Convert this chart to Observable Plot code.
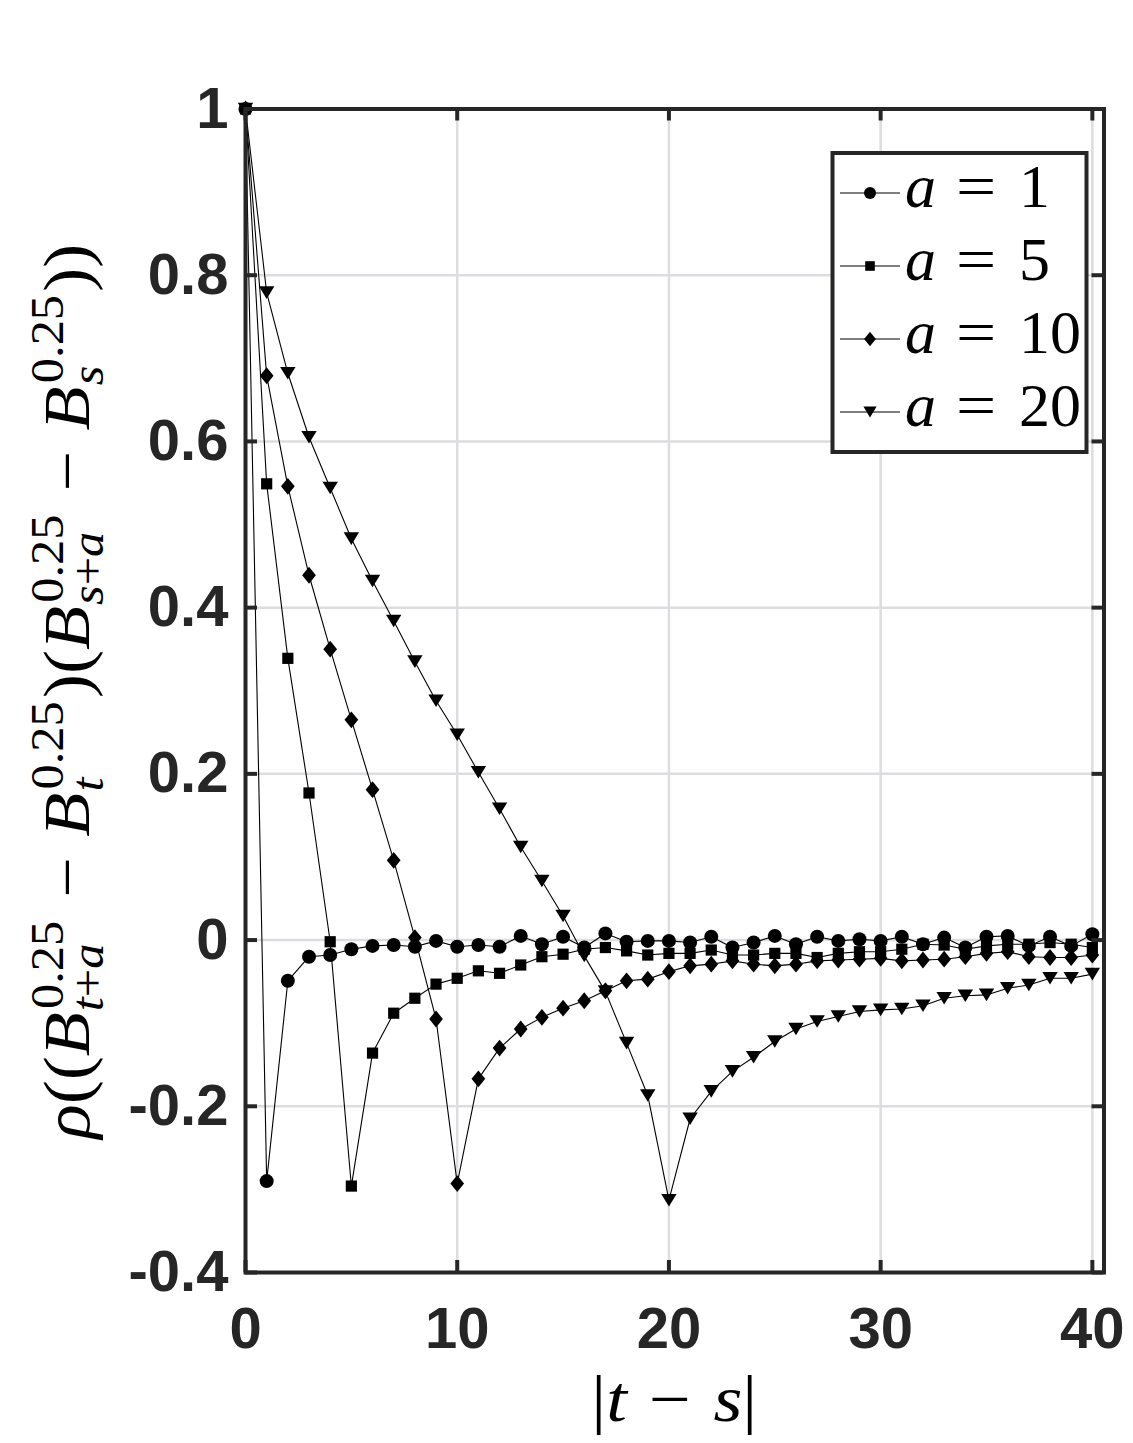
<!DOCTYPE html>
<html><head><meta charset="utf-8">
<script src="https://cdn.jsdelivr.net/npm/d3@7"></script>
<script src="https://cdn.jsdelivr.net/npm/@observablehq/plot@0.6"></script>
<style>body{margin:0;background:#fff;}</style>
</head><body><div id="chart"></div>
<script>
// ---- data ----
const lags = [0,1,2,3,4,5,6,7,8,9,10,11,12,13,14,15,16,17,18,19,20,21,22,23,24,25,26,27,28,29,30,31,32,33,34,35,36,37,38,39,40];
const xTicks = [0,10,20,30,40];
const yTicks = [-0.4,-0.2,0,0.2,0.4,0.6,0.8,1];
const aValues = [1,5,10,20];
const rho_a1 = [1,-0.290,-0.049,-0.020,-0.018,-0.011,-0.007,-0.006,-0.008,-0.001,-0.008,-0.006,-0.008,0.005,-0.005,0.004,-0.009,0.008,-0.002,-0.001,-0.001,-0.003,0.004,-0.009,-0.003,0.005,-0.005,0.004,-0.001,0.001,-0.001,0.004,-0.005,0.003,-0.009,0.004,0.005,-0.007,0.004,-0.007,0.007];
const rho_a5 = [1,0.549,0.339,0.177,-0.002,-0.296,-0.136,-0.088,-0.070,-0.053,-0.046,-0.037,-0.040,-0.030,-0.020,-0.017,-0.011,-0.009,-0.013,-0.018,-0.016,-0.016,-0.012,-0.018,-0.018,-0.016,-0.016,-0.021,-0.016,-0.014,-0.014,-0.011,-0.005,-0.006,-0.011,-0.007,-0.005,-0.005,-0.003,-0.005,-0.009];
const rho_a10 = [1,0.679,0.546,0.439,0.350,0.265,0.181,0.096,0.003,-0.095,-0.293,-0.167,-0.130,-0.107,-0.093,-0.082,-0.073,-0.061,-0.049,-0.047,-0.038,-0.031,-0.029,-0.025,-0.029,-0.031,-0.029,-0.025,-0.024,-0.023,-0.022,-0.025,-0.024,-0.023,-0.020,-0.016,-0.014,-0.020,-0.021,-0.021,-0.018];
const rho_a20 = [1,0.779,0.682,0.605,0.544,0.483,0.432,0.384,0.335,0.288,0.247,0.202,0.158,0.112,0.071,0.029,-0.019,-0.062,-0.124,-0.187,-0.313,-0.215,-0.182,-0.158,-0.141,-0.122,-0.107,-0.098,-0.092,-0.086,-0.084,-0.083,-0.079,-0.070,-0.067,-0.066,-0.058,-0.054,-0.046,-0.046,-0.041];
const seriesRho = [rho_a1, rho_a5, rho_a10, rho_a20];

const data = [];
seriesRho.forEach((arr, i) => arr.forEach((v, j) => data.push({lag: lags[j], rho: v, a: aValues[i]})));

// ---- symbols ----
const symbols = [
  {draw(ctx, size){ const r = Math.sqrt(size/Math.PI); ctx.moveTo(r,0); ctx.arc(0,0,r,0,2*Math.PI); ctx.closePath(); }},
  {draw(ctx, size){ const r = Math.sqrt(size/Math.PI)*0.8; ctx.rect(-r,-r,2*r,2*r); }},
  {draw(ctx, size){ const r = Math.sqrt(size/Math.PI); const h=r*1.2, w=r*0.98; ctx.moveTo(0,-h); ctx.lineTo(w,0); ctx.lineTo(0,h); ctx.lineTo(-w,0); ctx.closePath(); }},
  {draw(ctx, size){ const r = Math.sqrt(size/Math.PI); const w=r*1.1, h=r*1.8; ctx.moveTo(-w,-h/2); ctx.lineTo(w,-h/2); ctx.lineTo(0,h/2); ctx.closePath(); }}
];

// ---- layout ----
const W = 1133, H = 1443, mL = 245, mR = 29.5, mT = 108.5, mB = 171;
const innerW = W - mL - mR, innerH = H - mT - mB;
const tickLen = 12, ink = "#262626", gridColor = "#dddce1";

const plot = Plot.plot({
  width: W, height: H,
  marginLeft: mL, marginRight: mR, marginTop: mT, marginBottom: mB,
  x: {domain: [0, 40.55]},
  y: {domain: [-0.4, 1]},
  style: {fontFamily: "Liberation Sans", color: ink, background: "white", overflow: "visible"},
  marks: [
    Plot.ruleX(xTicks.filter(d => d > 0), {stroke: gridColor, strokeWidth: 2.5}),
    Plot.ruleY(yTicks.filter(d => d > -0.4 && d < 1), {stroke: gridColor, strokeWidth: 2.5}),
    Plot.line(data, {x: "lag", y: "rho", z: "a", stroke: "black", strokeWidth: 1.1}),
    ...aValues.map((a, i) => Plot.dot(data.filter(d => d.a === a), {x: "lag", y: "rho", r: 7, fill: "black", stroke: "none", symbol: symbols[i]})),
    Plot.frame({stroke: ink, strokeWidth: 4}),
    Plot.ruleX(xTicks, {stroke: ink, strokeWidth: 4, insetTop: innerH - tickLen}),
    Plot.ruleX(xTicks, {stroke: ink, strokeWidth: 4, insetBottom: innerH - tickLen}),
    Plot.ruleY(yTicks, {stroke: ink, strokeWidth: 4, insetRight: innerW - tickLen}),
    Plot.ruleY(yTicks, {stroke: ink, strokeWidth: 4, insetLeft: innerW - tickLen}),
    Plot.axisX({ticks: xTicks, tickSize: 0, tickPadding: 34, tickFormat: d => String(d), fontSize: 58, fontWeight: "bold", label: null}),
    Plot.axisY({ticks: yTicks, tickSize: 0, tickPadding: 17, tickFormat: d => String(d), fontSize: 58, fontWeight: "bold", label: null})
  ]
});
document.getElementById("chart").appendChild(plot);

const svg = d3.select(plot);
const serif = "Liberation Serif";

// math layout helper (segments: text, gap, or sup/sub script)
function mathText(g, segs, size) {
  let x = 0;
  const small = size * 0.7;
  const put = (t, italic, sz, xx, yy) => {
    const el = g.append("text").attr("x", xx).attr("y", yy)
      .attr("text-anchor", "start")
      .attr("font-family", serif).attr("font-size", sz)
      .attr("font-style", italic ? "italic" : "normal").attr("fill", "black").text(t);
    return el.node().getComputedTextLength();
  };
  segs.forEach(s => {
    if (s.gap !== undefined) {
      x += s.gap * size;
    } else if (s.sup !== undefined) {
      const w1 = put(s.sup, false, small, x + 3, -size * 0.40);
      let xs = x + 1, w2 = 0;
      s.sub.forEach(p => { const w = put(p.t, p.it, small, xs, size * 0.21); xs += w; w2 += w; });
      x += Math.max(w1 + 3, w2 + 1) + 3;
    } else {
      x += put(s.t, s.it, size, x, 0);
    }
  });
  return x;
}
function placeMath(segs, size, target, tx, ty, rotate) {
  const g = svg.append("g");
  const inner = g.append("g");
  const w = mathText(inner, segs, size);
  const s = target / w;
  inner.attr("transform", `translate(${-target/2},0) scale(${s},1)`);
  g.attr("transform", `translate(${tx},${ty})` + (rotate ? ` rotate(${rotate})` : ""));
}

// y label
const ySegs = [
  {t: "ρ", it: true}, {t: "(("},
  {t: "B", it: true}, {sup: "0.25", sub: [{t: "t", it: true}, {t: "+"}, {t: "a", it: true}]},
  {gap: 0.28}, {t: "−"}, {gap: 0.28},
  {t: "B", it: true}, {sup: "0.25", sub: [{t: "t", it: true}]},
  {t: ")("},
  {t: "B", it: true}, {sup: "0.25", sub: [{t: "s", it: true}, {t: "+"}, {t: "a", it: true}]},
  {gap: 0.28}, {t: "−"}, {gap: 0.28},
  {t: "B", it: true}, {sup: "0.25", sub: [{t: "s", it: true}]},
  {t: "))"}
];
placeMath(ySegs, 65, 895, 89, mT + innerH/2 + 1, -90);

// x label
placeMath([{t: "|"}, {t: "t", it: true}, {gap: 0.3}, {t: "−"}, {gap: 0.3}, {t: "s", it: true}, {t: "|"}],
  65, 166, mL + innerW/2, 1421, 0);

// legend
const lg = svg.append("g");
lg.append("rect").attr("x", 832.5).attr("y", 153).attr("width", 254).attr("height", 299)
  .attr("fill", "white").attr("stroke", ink).attr("stroke-width", 4);
const labelsNum = aValues.map(String);
const rowY = [193, 266, 339, 412];
aValues.forEach((a, i) => {
  const y = rowY[i];
  lg.append("line").attr("x1", 840).attr("x2", 900).attr("y1", y).attr("y2", y).attr("stroke", "black").attr("stroke-width", 1.1);
  const p = d3.path(); symbols[i].draw(p, Math.PI * 6 * 6);
  lg.append("path").attr("d", p.toString()).attr("transform", `translate(870,${y})`).attr("fill", "black");
  const t = (txt, x, it, w) => lg.append("text").attr("x", x).attr("y", y + 14).attr("text-anchor", "start")
    .attr("font-family", serif).attr("font-size", 62).attr("font-style", it ? "italic" : "normal")
    .attr("fill", "black").text(txt);
  t("a", 905, true);
  t("=", 956, false).attr("transform", `translate(956,0) scale(1.15,1) translate(-956,0)`);
  t(labelsNum[i], 1019, false);
});
</script>
</body></html>
